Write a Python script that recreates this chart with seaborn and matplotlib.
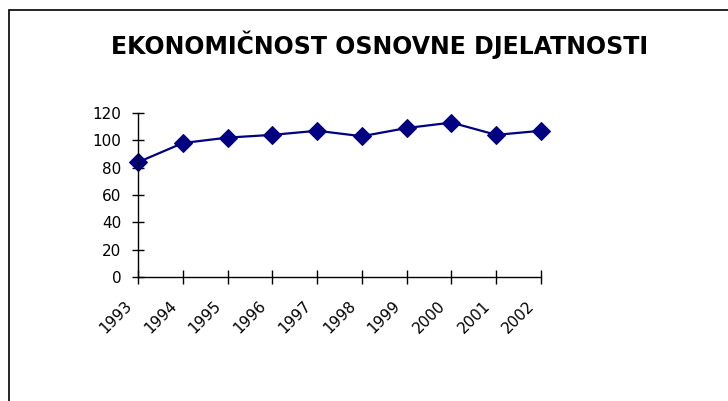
import matplotlib
matplotlib.use("Agg")
import matplotlib.pyplot as plt
import matplotlib.patches as patches
import matplotlib.transforms as mtransforms
import pandas as pd
import seaborn as sns

# podaci
godine = ["1993", "1994", "1995", "1996", "1997", "1998", "1999", "2000", "2001", "2002"]
ekonomicnost = [84, 98, 102, 104, 107, 103, 109, 113, 104, 107]
y_ticks = [0, 20, 40, 60, 80, 100, 120]

df = pd.DataFrame({"godina": godine, "vrijednost": ekonomicnost})
df["pos"] = range(len(godine))

sns.set_style("white")
plt.rcParams["font.family"] = ["DejaVu Sans"]
plt.rcParams["text.color"] = "black"
plt.rcParams["xtick.color"] = "black"
plt.rcParams["ytick.color"] = "black"

fig = plt.figure(figsize=(7.28, 4.01), dpi=100)
ax = fig.add_axes([138 / 728, 1 - 277 / 401, 403 / 728, 164 / 401])
ax.set_clip_on(False)

sns.lineplot(
    data=df,
    x="pos",
    y="vrijednost",
    color="#000080",
    marker="D",
    markersize=9,
    markeredgecolor="#000080",
    linewidth=1.6,
    clip_on=False,
    ax=ax
)

ax.set_xlim(0, len(godine) - 1)
ax.set_ylim(0, 120)
ax.set_xticks(df["pos"])
ax.set_xticklabels(godine, rotation=45, ha="right", rotation_mode="anchor", fontsize=11)
ax.set_yticks(y_ticks)
ax.set_yticklabels([str(v) for v in y_ticks], fontsize=11)
ax.set_xlabel("")
ax.set_ylabel("")

for side in ["top", "right"]:
    ax.spines[side].set_visible(False)
for side in ["left", "bottom"]:
    ax.spines[side].set_color("black")
    ax.spines[side].set_linewidth(1)

ax.tick_params(axis="y", left=True, direction="inout", length=8, width=1, pad=8)
ax.tick_params(axis="x", bottom=True, direction="inout", length=10, width=1, pad=10)
ax.grid(False)

# pomak oznaka godina ulijevo kao u originalu
pomak = mtransforms.ScaledTranslation(-14 / 100, 0, fig.dpi_scale_trans)
for lbl in ax.get_xticklabels():
    lbl.set_transform(lbl.get_transform() + pomak)

fig.text(0.521, 1 - 45 / 401, "EKONOMIČNOST OSNOVNE DJELATNOSTI",
         ha="center", va="center", fontsize=17, fontweight="bold")

# okvir oko grafikona
okvir = patches.Rectangle((9 / 728, -0.05), 1.0, 1 - 10 / 401 + 0.05,
                          transform=fig.transFigure, fill=False,
                          edgecolor="black", linewidth=1.2)
fig.patches.append(okvir)

fig.savefig("out.png", dpi=100)
